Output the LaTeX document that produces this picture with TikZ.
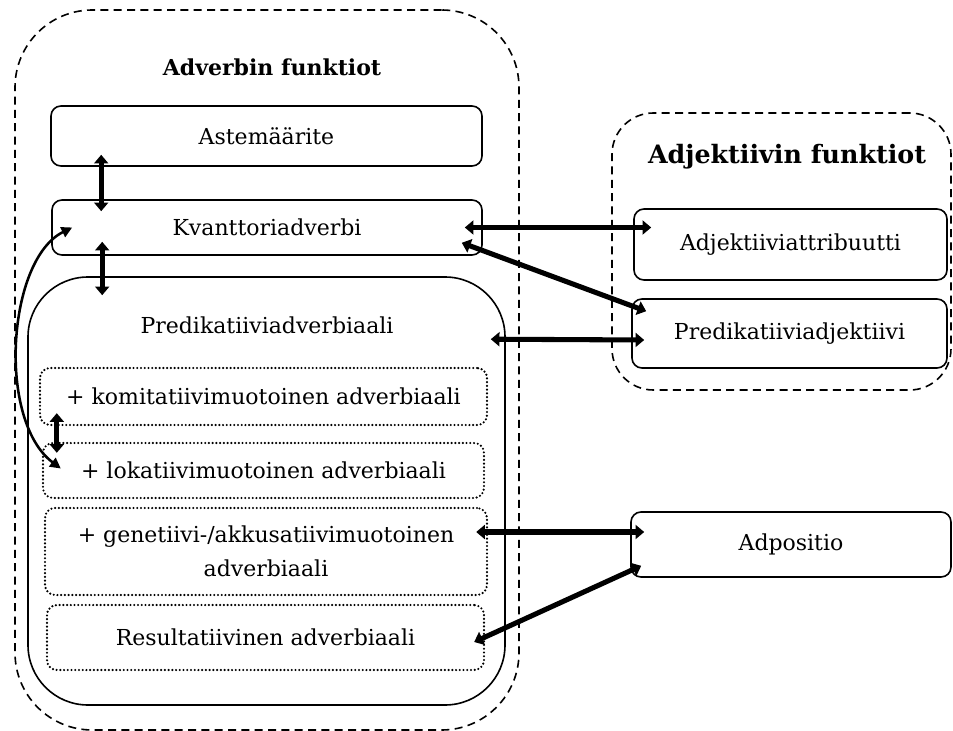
\documentclass[tikz,border=0pt]{standalone}
\usepackage{fontspec}
\setmainfont{DejaVu Serif}
\usetikzlibrary{arrows.meta,calc}
\begin{document}
\begin{tikzpicture}[x=0.75pt,y=-0.75pt,
  txt/.style={font=\fontsize{16.5}{25.5}\selectfont, inner sep=0pt, align=center},
  box/.style={draw, line width=1.2pt, rounded corners=7.5pt, inner sep=0pt, txt},
  dotbox/.style={draw, line width=1.8pt, dash pattern=on 0pt off 2.8pt, line cap=round, rounded corners=7.5pt, inner sep=0pt, txt},
  grp/.style={draw, line width=1.2pt, dash pattern=on 6pt off 4pt, inner sep=0pt},
  ttl/.style={font=\fontsize{#1}{20}\selectfont\bfseries, inner sep=0pt},
  biarrow/.style={line width=3.8pt, {Triangle[width=10.5pt,length=6.5pt]}-{Triangle[width=10.5pt,length=6.5pt]}},
  curvarrow/.style={line width=1.9pt, {Triangle[width=8pt,length=8pt]}-{Triangle[width=8pt,length=8pt]}}]
\useasboundingbox (0,0) rectangle (953,731);

% groups
\node[grp, rounded corners=58pt, minimum width=378pt, minimum height=540pt] (adv) at (267,370) {};
\node[grp, rounded corners=31pt, minimum width=254.25pt, minimum height=207.75pt] (adj) at (781.5,251.5) {};

\node[ttl=16.5] (advtitle) at (272,67) {Adverbin funktiot};
\node[ttl=19] (adjtitle) at (787,157) {Adjektiivin funktiot};

% adverb boxes
\node[box, minimum width=323.25pt, minimum height=45pt] (ast) at (266.5,136) {Astemäärite};
\node[box, minimum width=322.5pt, minimum height=41.25pt] (kv) at (267,227.5) {Kvanttoriadverbi};
\node[draw, line width=1.2pt, rounded corners=45pt, inner sep=0pt, minimum width=357.75pt, minimum height=321pt] (pa) at (266.5,491) {};
\node[txt] (patext) at (267,325) {Predikatiiviadverbiaali};
\node[dotbox, minimum width=335.25pt, minimum height=42.75pt] (komi) at (263.5,396.5) {+ komitatiivimuotoinen adverbiaali};
\node[dotbox, minimum width=330.75pt, minimum height=41.25pt] (lok) at (263.5,470.5) {+ lokatiivimuotoinen adverbiaali};
\node[dotbox, minimum width=331.5pt, minimum height=65.25pt] (gen) at (266,551.5) {+ genetiivi-/akkusatiivimuotoinen\\adverbiaali};
\node[dotbox, minimum width=327.75pt, minimum height=48.75pt] (res) at (265.5,637.5) {Resultatiivinen adverbiaali};

% adjective boxes
\node[box, minimum width=234.75pt, minimum height=53.25pt] (attr) at (790.5,244.5) {\raisebox{2pt}{Adjektiiviattribuutti}};
\node[box, minimum width=236.25pt, minimum height=51.75pt] (predadj) at (789.5,333.5) {\raisebox{4pt}{Predikatiiviadjektiivi}};
\node[box, minimum width=240pt, minimum height=48.75pt] (adpos) at (791,544.5) {Adpositio};

% arrows
\draw[biarrow] ($(ast.south west)+(51,-12)$) -- ($(kv.north west)+(50,12)$);
\draw[biarrow] ($(kv.south west)+(51,-14)$) -- ($(pa.north west)+(75,19)$);
\draw[biarrow] ($(kv.east)+(-18,0)$) -- ($(attr.west)+(18,-17)$);
\draw[biarrow] ($(kv.south east)+(-21,-13)$) -- ($(predadj.north west)+(15,13)$);
\draw[biarrow] ($(pa.north east)+(-15,63)$) -- ($(predadj.west)+(13,6.5)$);
\draw[biarrow] ($(gen.east)+(-12,-19.5)$) -- ($(adpos.west)+(14,-12.5)$);
\draw[biarrow] ($(res.east)+(-11,4.5)$) -- ($(adpos.south west)+(11,-12)$);
\draw[biarrow] ($(komi.south west)+(18,-13)$) -- ($(lok.north west)+(15,11)$);
\draw[curvarrow] ($(kv.west)+(21,0)$) .. controls ($(kv.west)+(-44,32)$) and ($(lok.west)+(-45,-50)$) .. ($(lok.west)+(19,-2)$);
\end{tikzpicture}
\end{document}
